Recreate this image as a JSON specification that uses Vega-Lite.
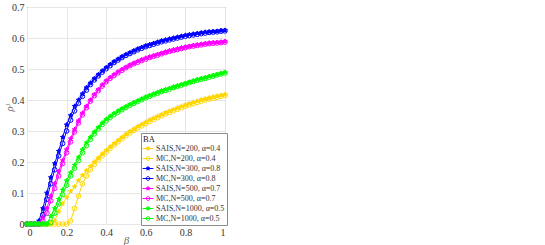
{
"$schema": "https://vega.github.io/schema/vega-lite/v6.json",
"width": 198, "height": 217,
"autosize": {"type": "none"},
"padding": {"left": 27, "top": 7, "right": 320, "bottom": 21},
"background": "white",
"config": {
  "view": {"stroke": "#5a5a5a", "strokeWidth": 1},
  "axis": {"labelFont": "Liberation Serif", "labelFontSize": 10, "labelColor": "#333333", "titleFont": "Liberation Serif", "titleColor": "#666666", "titleFontWeight": "normal", "gridColor": "#e6e6e6", "domain": false, "ticks": false, "labelPadding": 3},
  "legend": {"fillColor": "white", "strokeColor": "#8c8c8c", "padding": 2, "titleFont": "Liberation Serif", "titleFontSize": 8.5, "titleFontWeight": "normal", "titleColor": "#222222", "titlePadding": 0, "labelFont": "Liberation Serif", "labelFontSize": 8, "labelColor": "#333333", "symbolSize": 81, "rowPadding": 1, "labelOffset": 3, "symbolStrokeWidth": 1, "cornerRadius": 0}
},
"datasets": {"d": [
{"s":"SAIS,N=200, α=0.4","b":0,"v":0},{"s":"SAIS,N=200, α=0.4","b":0.02,"v":0},{"s":"SAIS,N=200, α=0.4","b":0.04,"v":0},{"s":"SAIS,N=200, α=0.4","b":0.06,"v":0},{"s":"SAIS,N=200, α=0.4","b":0.08,"v":0},{"s":"SAIS,N=200, α=0.4","b":0.1,"v":0},{"s":"SAIS,N=200, α=0.4","b":0.12,"v":0},{"s":"SAIS,N=200, α=0.4","b":0.14,"v":0.01},{"s":"SAIS,N=200, α=0.4","b":0.16,"v":0.04},{"s":"SAIS,N=200, α=0.4","b":0.18,"v":0.065},{"s":"SAIS,N=200, α=0.4","b":0.2,"v":0.085},{"s":"SAIS,N=200, α=0.4","b":0.22,"v":0.105},{"s":"SAIS,N=200, α=0.4","b":0.24,"v":0.12},{"s":"SAIS,N=200, α=0.4","b":0.26,"v":0.14},{"s":"SAIS,N=200, α=0.4","b":0.28,"v":0.157},{"s":"SAIS,N=200, α=0.4","b":0.3,"v":0.172},{"s":"SAIS,N=200, α=0.4","b":0.32,"v":0.186},{"s":"SAIS,N=200, α=0.4","b":0.34,"v":0.2},{"s":"SAIS,N=200, α=0.4","b":0.36,"v":0.213},{"s":"SAIS,N=200, α=0.4","b":0.38,"v":0.226},{"s":"SAIS,N=200, α=0.4","b":0.4,"v":0.238},{"s":"SAIS,N=200, α=0.4","b":0.42,"v":0.249},{"s":"SAIS,N=200, α=0.4","b":0.44,"v":0.26},{"s":"SAIS,N=200, α=0.4","b":0.46,"v":0.27},{"s":"SAIS,N=200, α=0.4","b":0.48,"v":0.28},{"s":"SAIS,N=200, α=0.4","b":0.5,"v":0.29},{"s":"SAIS,N=200, α=0.4","b":0.52,"v":0.299},{"s":"SAIS,N=200, α=0.4","b":0.54,"v":0.307},{"s":"SAIS,N=200, α=0.4","b":0.56,"v":0.315},{"s":"SAIS,N=200, α=0.4","b":0.58,"v":0.322},{"s":"SAIS,N=200, α=0.4","b":0.6,"v":0.329},{"s":"SAIS,N=200, α=0.4","b":0.62,"v":0.336},{"s":"SAIS,N=200, α=0.4","b":0.64,"v":0.342},{"s":"SAIS,N=200, α=0.4","b":0.66,"v":0.348},{"s":"SAIS,N=200, α=0.4","b":0.68,"v":0.354},{"s":"SAIS,N=200, α=0.4","b":0.7,"v":0.36},{"s":"SAIS,N=200, α=0.4","b":0.72,"v":0.365},{"s":"SAIS,N=200, α=0.4","b":0.74,"v":0.37},{"s":"SAIS,N=200, α=0.4","b":0.76,"v":0.375},{"s":"SAIS,N=200, α=0.4","b":0.78,"v":0.38},{"s":"SAIS,N=200, α=0.4","b":0.8,"v":0.385},{"s":"SAIS,N=200, α=0.4","b":0.82,"v":0.389},{"s":"SAIS,N=200, α=0.4","b":0.84,"v":0.393},{"s":"SAIS,N=200, α=0.4","b":0.86,"v":0.397},{"s":"SAIS,N=200, α=0.4","b":0.88,"v":0.401},{"s":"SAIS,N=200, α=0.4","b":0.9,"v":0.404},{"s":"SAIS,N=200, α=0.4","b":0.92,"v":0.407},{"s":"SAIS,N=200, α=0.4","b":0.94,"v":0.41},{"s":"SAIS,N=200, α=0.4","b":0.96,"v":0.413},{"s":"SAIS,N=200, α=0.4","b":0.98,"v":0.415},{"s":"SAIS,N=200, α=0.4","b":1,"v":0.418},
{"s":"MC,N=200, α=0.4","b":0,"v":0},{"s":"MC,N=200, α=0.4","b":0.02,"v":0},{"s":"MC,N=200, α=0.4","b":0.04,"v":0},{"s":"MC,N=200, α=0.4","b":0.06,"v":0},{"s":"MC,N=200, α=0.4","b":0.08,"v":0},{"s":"MC,N=200, α=0.4","b":0.1,"v":0},{"s":"MC,N=200, α=0.4","b":0.12,"v":0},{"s":"MC,N=200, α=0.4","b":0.14,"v":0},{"s":"MC,N=200, α=0.4","b":0.16,"v":0},{"s":"MC,N=200, α=0.4","b":0.18,"v":0},{"s":"MC,N=200, α=0.4","b":0.2,"v":0},{"s":"MC,N=200, α=0.4","b":0.22,"v":0.01},{"s":"MC,N=200, α=0.4","b":0.24,"v":0.05},{"s":"MC,N=200, α=0.4","b":0.26,"v":0.09},{"s":"MC,N=200, α=0.4","b":0.28,"v":0.13},{"s":"MC,N=200, α=0.4","b":0.3,"v":0.155},{"s":"MC,N=200, α=0.4","b":0.32,"v":0.175},{"s":"MC,N=200, α=0.4","b":0.34,"v":0.192},{"s":"MC,N=200, α=0.4","b":0.36,"v":0.207},{"s":"MC,N=200, α=0.4","b":0.38,"v":0.22},{"s":"MC,N=200, α=0.4","b":0.4,"v":0.232},{"s":"MC,N=200, α=0.4","b":0.42,"v":0.244},{"s":"MC,N=200, α=0.4","b":0.44,"v":0.255},{"s":"MC,N=200, α=0.4","b":0.46,"v":0.265},{"s":"MC,N=200, α=0.4","b":0.48,"v":0.275},{"s":"MC,N=200, α=0.4","b":0.5,"v":0.285},{"s":"MC,N=200, α=0.4","b":0.52,"v":0.294},{"s":"MC,N=200, α=0.4","b":0.54,"v":0.302},{"s":"MC,N=200, α=0.4","b":0.56,"v":0.31},{"s":"MC,N=200, α=0.4","b":0.58,"v":0.317},{"s":"MC,N=200, α=0.4","b":0.6,"v":0.324},{"s":"MC,N=200, α=0.4","b":0.62,"v":0.331},{"s":"MC,N=200, α=0.4","b":0.64,"v":0.337},{"s":"MC,N=200, α=0.4","b":0.66,"v":0.343},{"s":"MC,N=200, α=0.4","b":0.68,"v":0.349},{"s":"MC,N=200, α=0.4","b":0.7,"v":0.355},{"s":"MC,N=200, α=0.4","b":0.72,"v":0.36},{"s":"MC,N=200, α=0.4","b":0.74,"v":0.365},{"s":"MC,N=200, α=0.4","b":0.76,"v":0.37},{"s":"MC,N=200, α=0.4","b":0.78,"v":0.375},{"s":"MC,N=200, α=0.4","b":0.8,"v":0.38},{"s":"MC,N=200, α=0.4","b":0.82,"v":0.384},{"s":"MC,N=200, α=0.4","b":0.84,"v":0.388},{"s":"MC,N=200, α=0.4","b":0.86,"v":0.392},{"s":"MC,N=200, α=0.4","b":0.88,"v":0.396},{"s":"MC,N=200, α=0.4","b":0.9,"v":0.4},{"s":"MC,N=200, α=0.4","b":0.92,"v":0.403},{"s":"MC,N=200, α=0.4","b":0.94,"v":0.406},{"s":"MC,N=200, α=0.4","b":0.96,"v":0.409},{"s":"MC,N=200, α=0.4","b":0.98,"v":0.412},{"s":"MC,N=200, α=0.4","b":1,"v":0.415},
{"s":"SAIS,N=300, α=0.8","b":0,"v":0},{"s":"SAIS,N=300, α=0.8","b":0.02,"v":0},{"s":"SAIS,N=300, α=0.8","b":0.04,"v":0},{"s":"SAIS,N=300, α=0.8","b":0.06,"v":0.01},{"s":"SAIS,N=300, α=0.8","b":0.08,"v":0.05},{"s":"SAIS,N=300, α=0.8","b":0.1,"v":0.1},{"s":"SAIS,N=300, α=0.8","b":0.12,"v":0.15},{"s":"SAIS,N=300, α=0.8","b":0.14,"v":0.195},{"s":"SAIS,N=300, α=0.8","b":0.16,"v":0.235},{"s":"SAIS,N=300, α=0.8","b":0.18,"v":0.28},{"s":"SAIS,N=300, α=0.8","b":0.2,"v":0.32},{"s":"SAIS,N=300, α=0.8","b":0.22,"v":0.35},{"s":"SAIS,N=300, α=0.8","b":0.24,"v":0.38},{"s":"SAIS,N=300, α=0.8","b":0.26,"v":0.4},{"s":"SAIS,N=300, α=0.8","b":0.28,"v":0.42},{"s":"SAIS,N=300, α=0.8","b":0.3,"v":0.44},{"s":"SAIS,N=300, α=0.8","b":0.32,"v":0.455},{"s":"SAIS,N=300, α=0.8","b":0.34,"v":0.469},{"s":"SAIS,N=300, α=0.8","b":0.36,"v":0.482},{"s":"SAIS,N=300, α=0.8","b":0.38,"v":0.494},{"s":"SAIS,N=300, α=0.8","b":0.4,"v":0.505},{"s":"SAIS,N=300, α=0.8","b":0.42,"v":0.515},{"s":"SAIS,N=300, α=0.8","b":0.44,"v":0.524},{"s":"SAIS,N=300, α=0.8","b":0.46,"v":0.532},{"s":"SAIS,N=300, α=0.8","b":0.48,"v":0.54},{"s":"SAIS,N=300, α=0.8","b":0.5,"v":0.547},{"s":"SAIS,N=300, α=0.8","b":0.52,"v":0.553},{"s":"SAIS,N=300, α=0.8","b":0.54,"v":0.559},{"s":"SAIS,N=300, α=0.8","b":0.56,"v":0.565},{"s":"SAIS,N=300, α=0.8","b":0.58,"v":0.57},{"s":"SAIS,N=300, α=0.8","b":0.6,"v":0.575},{"s":"SAIS,N=300, α=0.8","b":0.62,"v":0.579},{"s":"SAIS,N=300, α=0.8","b":0.64,"v":0.583},{"s":"SAIS,N=300, α=0.8","b":0.66,"v":0.587},{"s":"SAIS,N=300, α=0.8","b":0.68,"v":0.591},{"s":"SAIS,N=300, α=0.8","b":0.7,"v":0.594},{"s":"SAIS,N=300, α=0.8","b":0.72,"v":0.597},{"s":"SAIS,N=300, α=0.8","b":0.74,"v":0.6},{"s":"SAIS,N=300, α=0.8","b":0.76,"v":0.603},{"s":"SAIS,N=300, α=0.8","b":0.78,"v":0.606},{"s":"SAIS,N=300, α=0.8","b":0.8,"v":0.609},{"s":"SAIS,N=300, α=0.8","b":0.82,"v":0.611},{"s":"SAIS,N=300, α=0.8","b":0.84,"v":0.613},{"s":"SAIS,N=300, α=0.8","b":0.86,"v":0.615},{"s":"SAIS,N=300, α=0.8","b":0.88,"v":0.617},{"s":"SAIS,N=300, α=0.8","b":0.9,"v":0.619},{"s":"SAIS,N=300, α=0.8","b":0.92,"v":0.62},{"s":"SAIS,N=300, α=0.8","b":0.94,"v":0.621},{"s":"SAIS,N=300, α=0.8","b":0.96,"v":0.622},{"s":"SAIS,N=300, α=0.8","b":0.98,"v":0.624},{"s":"SAIS,N=300, α=0.8","b":1,"v":0.625},
{"s":"MC,N=300, α=0.8","b":0,"v":0},{"s":"MC,N=300, α=0.8","b":0.02,"v":0},{"s":"MC,N=300, α=0.8","b":0.04,"v":0},{"s":"MC,N=300, α=0.8","b":0.06,"v":0},{"s":"MC,N=300, α=0.8","b":0.08,"v":0.03},{"s":"MC,N=300, α=0.8","b":0.1,"v":0.08},{"s":"MC,N=300, α=0.8","b":0.12,"v":0.13},{"s":"MC,N=300, α=0.8","b":0.14,"v":0.175},{"s":"MC,N=300, α=0.8","b":0.16,"v":0.22},{"s":"MC,N=300, α=0.8","b":0.18,"v":0.26},{"s":"MC,N=300, α=0.8","b":0.2,"v":0.3},{"s":"MC,N=300, α=0.8","b":0.22,"v":0.335},{"s":"MC,N=300, α=0.8","b":0.24,"v":0.365},{"s":"MC,N=300, α=0.8","b":0.26,"v":0.39},{"s":"MC,N=300, α=0.8","b":0.28,"v":0.412},{"s":"MC,N=300, α=0.8","b":0.3,"v":0.432},{"s":"MC,N=300, α=0.8","b":0.32,"v":0.45},{"s":"MC,N=300, α=0.8","b":0.34,"v":0.465},{"s":"MC,N=300, α=0.8","b":0.36,"v":0.478},{"s":"MC,N=300, α=0.8","b":0.38,"v":0.49},{"s":"MC,N=300, α=0.8","b":0.4,"v":0.501},{"s":"MC,N=300, α=0.8","b":0.42,"v":0.511},{"s":"MC,N=300, α=0.8","b":0.44,"v":0.521},{"s":"MC,N=300, α=0.8","b":0.46,"v":0.529},{"s":"MC,N=300, α=0.8","b":0.48,"v":0.537},{"s":"MC,N=300, α=0.8","b":0.5,"v":0.544},{"s":"MC,N=300, α=0.8","b":0.52,"v":0.55},{"s":"MC,N=300, α=0.8","b":0.54,"v":0.556},{"s":"MC,N=300, α=0.8","b":0.56,"v":0.562},{"s":"MC,N=300, α=0.8","b":0.58,"v":0.567},{"s":"MC,N=300, α=0.8","b":0.6,"v":0.572},{"s":"MC,N=300, α=0.8","b":0.62,"v":0.576},{"s":"MC,N=300, α=0.8","b":0.64,"v":0.58},{"s":"MC,N=300, α=0.8","b":0.66,"v":0.584},{"s":"MC,N=300, α=0.8","b":0.68,"v":0.588},{"s":"MC,N=300, α=0.8","b":0.7,"v":0.591},{"s":"MC,N=300, α=0.8","b":0.72,"v":0.594},{"s":"MC,N=300, α=0.8","b":0.74,"v":0.597},{"s":"MC,N=300, α=0.8","b":0.76,"v":0.6},{"s":"MC,N=300, α=0.8","b":0.78,"v":0.603},{"s":"MC,N=300, α=0.8","b":0.8,"v":0.606},{"s":"MC,N=300, α=0.8","b":0.82,"v":0.608},{"s":"MC,N=300, α=0.8","b":0.84,"v":0.61},{"s":"MC,N=300, α=0.8","b":0.86,"v":0.612},{"s":"MC,N=300, α=0.8","b":0.88,"v":0.614},{"s":"MC,N=300, α=0.8","b":0.9,"v":0.616},{"s":"MC,N=300, α=0.8","b":0.92,"v":0.618},{"s":"MC,N=300, α=0.8","b":0.94,"v":0.619},{"s":"MC,N=300, α=0.8","b":0.96,"v":0.62},{"s":"MC,N=300, α=0.8","b":0.98,"v":0.622},{"s":"MC,N=300, α=0.8","b":1,"v":0.623},
{"s":"SAIS,N=500, α=0.7","b":0,"v":0},{"s":"SAIS,N=500, α=0.7","b":0.02,"v":0},{"s":"SAIS,N=500, α=0.7","b":0.04,"v":0},{"s":"SAIS,N=500, α=0.7","b":0.06,"v":0},{"s":"SAIS,N=500, α=0.7","b":0.08,"v":0.02},{"s":"SAIS,N=500, α=0.7","b":0.1,"v":0.05},{"s":"SAIS,N=500, α=0.7","b":0.12,"v":0.09},{"s":"SAIS,N=500, α=0.7","b":0.14,"v":0.13},{"s":"SAIS,N=500, α=0.7","b":0.16,"v":0.17},{"s":"SAIS,N=500, α=0.7","b":0.18,"v":0.205},{"s":"SAIS,N=500, α=0.7","b":0.2,"v":0.24},{"s":"SAIS,N=500, α=0.7","b":0.22,"v":0.275},{"s":"SAIS,N=500, α=0.7","b":0.24,"v":0.305},{"s":"SAIS,N=500, α=0.7","b":0.26,"v":0.333},{"s":"SAIS,N=500, α=0.7","b":0.28,"v":0.358},{"s":"SAIS,N=500, α=0.7","b":0.3,"v":0.38},{"s":"SAIS,N=500, α=0.7","b":0.32,"v":0.4},{"s":"SAIS,N=500, α=0.7","b":0.34,"v":0.418},{"s":"SAIS,N=500, α=0.7","b":0.36,"v":0.434},{"s":"SAIS,N=500, α=0.7","b":0.38,"v":0.449},{"s":"SAIS,N=500, α=0.7","b":0.4,"v":0.462},{"s":"SAIS,N=500, α=0.7","b":0.42,"v":0.473},{"s":"SAIS,N=500, α=0.7","b":0.44,"v":0.482},{"s":"SAIS,N=500, α=0.7","b":0.46,"v":0.491},{"s":"SAIS,N=500, α=0.7","b":0.48,"v":0.499},{"s":"SAIS,N=500, α=0.7","b":0.5,"v":0.506},{"s":"SAIS,N=500, α=0.7","b":0.52,"v":0.513},{"s":"SAIS,N=500, α=0.7","b":0.54,"v":0.519},{"s":"SAIS,N=500, α=0.7","b":0.56,"v":0.525},{"s":"SAIS,N=500, α=0.7","b":0.58,"v":0.53},{"s":"SAIS,N=500, α=0.7","b":0.6,"v":0.535},{"s":"SAIS,N=500, α=0.7","b":0.62,"v":0.539},{"s":"SAIS,N=500, α=0.7","b":0.64,"v":0.543},{"s":"SAIS,N=500, α=0.7","b":0.66,"v":0.547},{"s":"SAIS,N=500, α=0.7","b":0.68,"v":0.551},{"s":"SAIS,N=500, α=0.7","b":0.7,"v":0.555},{"s":"SAIS,N=500, α=0.7","b":0.72,"v":0.559},{"s":"SAIS,N=500, α=0.7","b":0.74,"v":0.562},{"s":"SAIS,N=500, α=0.7","b":0.76,"v":0.565},{"s":"SAIS,N=500, α=0.7","b":0.78,"v":0.568},{"s":"SAIS,N=500, α=0.7","b":0.8,"v":0.571},{"s":"SAIS,N=500, α=0.7","b":0.82,"v":0.573},{"s":"SAIS,N=500, α=0.7","b":0.84,"v":0.576},{"s":"SAIS,N=500, α=0.7","b":0.86,"v":0.578},{"s":"SAIS,N=500, α=0.7","b":0.88,"v":0.58},{"s":"SAIS,N=500, α=0.7","b":0.9,"v":0.582},{"s":"SAIS,N=500, α=0.7","b":0.92,"v":0.584},{"s":"SAIS,N=500, α=0.7","b":0.94,"v":0.585},{"s":"SAIS,N=500, α=0.7","b":0.96,"v":0.586},{"s":"SAIS,N=500, α=0.7","b":0.98,"v":0.587},{"s":"SAIS,N=500, α=0.7","b":1,"v":0.589},
{"s":"MC,N=500, α=0.7","b":0,"v":0},{"s":"MC,N=500, α=0.7","b":0.02,"v":0},{"s":"MC,N=500, α=0.7","b":0.04,"v":0},{"s":"MC,N=500, α=0.7","b":0.06,"v":0},{"s":"MC,N=500, α=0.7","b":0.08,"v":0.01},{"s":"MC,N=500, α=0.7","b":0.1,"v":0.035},{"s":"MC,N=500, α=0.7","b":0.12,"v":0.075},{"s":"MC,N=500, α=0.7","b":0.14,"v":0.115},{"s":"MC,N=500, α=0.7","b":0.16,"v":0.155},{"s":"MC,N=500, α=0.7","b":0.18,"v":0.195},{"s":"MC,N=500, α=0.7","b":0.2,"v":0.23},{"s":"MC,N=500, α=0.7","b":0.22,"v":0.265},{"s":"MC,N=500, α=0.7","b":0.24,"v":0.297},{"s":"MC,N=500, α=0.7","b":0.26,"v":0.326},{"s":"MC,N=500, α=0.7","b":0.28,"v":0.352},{"s":"MC,N=500, α=0.7","b":0.3,"v":0.375},{"s":"MC,N=500, α=0.7","b":0.32,"v":0.396},{"s":"MC,N=500, α=0.7","b":0.34,"v":0.414},{"s":"MC,N=500, α=0.7","b":0.36,"v":0.43},{"s":"MC,N=500, α=0.7","b":0.38,"v":0.445},{"s":"MC,N=500, α=0.7","b":0.4,"v":0.459},{"s":"MC,N=500, α=0.7","b":0.42,"v":0.47},{"s":"MC,N=500, α=0.7","b":0.44,"v":0.479},{"s":"MC,N=500, α=0.7","b":0.46,"v":0.488},{"s":"MC,N=500, α=0.7","b":0.48,"v":0.496},{"s":"MC,N=500, α=0.7","b":0.5,"v":0.504},{"s":"MC,N=500, α=0.7","b":0.52,"v":0.511},{"s":"MC,N=500, α=0.7","b":0.54,"v":0.517},{"s":"MC,N=500, α=0.7","b":0.56,"v":0.522},{"s":"MC,N=500, α=0.7","b":0.58,"v":0.527},{"s":"MC,N=500, α=0.7","b":0.6,"v":0.532},{"s":"MC,N=500, α=0.7","b":0.62,"v":0.537},{"s":"MC,N=500, α=0.7","b":0.64,"v":0.541},{"s":"MC,N=500, α=0.7","b":0.66,"v":0.545},{"s":"MC,N=500, α=0.7","b":0.68,"v":0.549},{"s":"MC,N=500, α=0.7","b":0.7,"v":0.553},{"s":"MC,N=500, α=0.7","b":0.72,"v":0.557},{"s":"MC,N=500, α=0.7","b":0.74,"v":0.56},{"s":"MC,N=500, α=0.7","b":0.76,"v":0.563},{"s":"MC,N=500, α=0.7","b":0.78,"v":0.566},{"s":"MC,N=500, α=0.7","b":0.8,"v":0.569},{"s":"MC,N=500, α=0.7","b":0.82,"v":0.572},{"s":"MC,N=500, α=0.7","b":0.84,"v":0.574},{"s":"MC,N=500, α=0.7","b":0.86,"v":0.576},{"s":"MC,N=500, α=0.7","b":0.88,"v":0.578},{"s":"MC,N=500, α=0.7","b":0.9,"v":0.58},{"s":"MC,N=500, α=0.7","b":0.92,"v":0.582},{"s":"MC,N=500, α=0.7","b":0.94,"v":0.583},{"s":"MC,N=500, α=0.7","b":0.96,"v":0.584},{"s":"MC,N=500, α=0.7","b":0.98,"v":0.585},{"s":"MC,N=500, α=0.7","b":1,"v":0.587},
{"s":"SAIS,N=1000, α=0.5","b":0,"v":0},{"s":"SAIS,N=1000, α=0.5","b":0.02,"v":0},{"s":"SAIS,N=1000, α=0.5","b":0.04,"v":0},{"s":"SAIS,N=1000, α=0.5","b":0.06,"v":0},{"s":"SAIS,N=1000, α=0.5","b":0.08,"v":0},{"s":"SAIS,N=1000, α=0.5","b":0.1,"v":0},{"s":"SAIS,N=1000, α=0.5","b":0.12,"v":0.025},{"s":"SAIS,N=1000, α=0.5","b":0.14,"v":0.05},{"s":"SAIS,N=1000, α=0.5","b":0.16,"v":0.08},{"s":"SAIS,N=1000, α=0.5","b":0.18,"v":0.11},{"s":"SAIS,N=1000, α=0.5","b":0.2,"v":0.14},{"s":"SAIS,N=1000, α=0.5","b":0.22,"v":0.165},{"s":"SAIS,N=1000, α=0.5","b":0.24,"v":0.19},{"s":"SAIS,N=1000, α=0.5","b":0.26,"v":0.215},{"s":"SAIS,N=1000, α=0.5","b":0.28,"v":0.24},{"s":"SAIS,N=1000, α=0.5","b":0.3,"v":0.262},{"s":"SAIS,N=1000, α=0.5","b":0.32,"v":0.28},{"s":"SAIS,N=1000, α=0.5","b":0.34,"v":0.297},{"s":"SAIS,N=1000, α=0.5","b":0.36,"v":0.312},{"s":"SAIS,N=1000, α=0.5","b":0.38,"v":0.326},{"s":"SAIS,N=1000, α=0.5","b":0.4,"v":0.338},{"s":"SAIS,N=1000, α=0.5","b":0.42,"v":0.348},{"s":"SAIS,N=1000, α=0.5","b":0.44,"v":0.357},{"s":"SAIS,N=1000, α=0.5","b":0.46,"v":0.365},{"s":"SAIS,N=1000, α=0.5","b":0.48,"v":0.372},{"s":"SAIS,N=1000, α=0.5","b":0.5,"v":0.379},{"s":"SAIS,N=1000, α=0.5","b":0.52,"v":0.386},{"s":"SAIS,N=1000, α=0.5","b":0.54,"v":0.392},{"s":"SAIS,N=1000, α=0.5","b":0.56,"v":0.398},{"s":"SAIS,N=1000, α=0.5","b":0.58,"v":0.404},{"s":"SAIS,N=1000, α=0.5","b":0.6,"v":0.41},{"s":"SAIS,N=1000, α=0.5","b":0.62,"v":0.415},{"s":"SAIS,N=1000, α=0.5","b":0.64,"v":0.42},{"s":"SAIS,N=1000, α=0.5","b":0.66,"v":0.425},{"s":"SAIS,N=1000, α=0.5","b":0.68,"v":0.43},{"s":"SAIS,N=1000, α=0.5","b":0.7,"v":0.434},{"s":"SAIS,N=1000, α=0.5","b":0.72,"v":0.438},{"s":"SAIS,N=1000, α=0.5","b":0.74,"v":0.442},{"s":"SAIS,N=1000, α=0.5","b":0.76,"v":0.446},{"s":"SAIS,N=1000, α=0.5","b":0.78,"v":0.45},{"s":"SAIS,N=1000, α=0.5","b":0.8,"v":0.454},{"s":"SAIS,N=1000, α=0.5","b":0.82,"v":0.458},{"s":"SAIS,N=1000, α=0.5","b":0.84,"v":0.462},{"s":"SAIS,N=1000, α=0.5","b":0.86,"v":0.466},{"s":"SAIS,N=1000, α=0.5","b":0.88,"v":0.469},{"s":"SAIS,N=1000, α=0.5","b":0.9,"v":0.472},{"s":"SAIS,N=1000, α=0.5","b":0.92,"v":0.476},{"s":"SAIS,N=1000, α=0.5","b":0.94,"v":0.479},{"s":"SAIS,N=1000, α=0.5","b":0.96,"v":0.482},{"s":"SAIS,N=1000, α=0.5","b":0.98,"v":0.486},{"s":"SAIS,N=1000, α=0.5","b":1,"v":0.489},
{"s":"MC,N=1000, α=0.5","b":0,"v":0},{"s":"MC,N=1000, α=0.5","b":0.02,"v":0},{"s":"MC,N=1000, α=0.5","b":0.04,"v":0},{"s":"MC,N=1000, α=0.5","b":0.06,"v":0},{"s":"MC,N=1000, α=0.5","b":0.08,"v":0},{"s":"MC,N=1000, α=0.5","b":0.1,"v":0},{"s":"MC,N=1000, α=0.5","b":0.12,"v":0.005},{"s":"MC,N=1000, α=0.5","b":0.14,"v":0.035},{"s":"MC,N=1000, α=0.5","b":0.16,"v":0.065},{"s":"MC,N=1000, α=0.5","b":0.18,"v":0.095},{"s":"MC,N=1000, α=0.5","b":0.2,"v":0.125},{"s":"MC,N=1000, α=0.5","b":0.22,"v":0.155},{"s":"MC,N=1000, α=0.5","b":0.24,"v":0.18},{"s":"MC,N=1000, α=0.5","b":0.26,"v":0.205},{"s":"MC,N=1000, α=0.5","b":0.28,"v":0.23},{"s":"MC,N=1000, α=0.5","b":0.3,"v":0.253},{"s":"MC,N=1000, α=0.5","b":0.32,"v":0.273},{"s":"MC,N=1000, α=0.5","b":0.34,"v":0.291},{"s":"MC,N=1000, α=0.5","b":0.36,"v":0.307},{"s":"MC,N=1000, α=0.5","b":0.38,"v":0.321},{"s":"MC,N=1000, α=0.5","b":0.4,"v":0.333},{"s":"MC,N=1000, α=0.5","b":0.42,"v":0.344},{"s":"MC,N=1000, α=0.5","b":0.44,"v":0.353},{"s":"MC,N=1000, α=0.5","b":0.46,"v":0.361},{"s":"MC,N=1000, α=0.5","b":0.48,"v":0.369},{"s":"MC,N=1000, α=0.5","b":0.5,"v":0.376},{"s":"MC,N=1000, α=0.5","b":0.52,"v":0.383},{"s":"MC,N=1000, α=0.5","b":0.54,"v":0.389},{"s":"MC,N=1000, α=0.5","b":0.56,"v":0.395},{"s":"MC,N=1000, α=0.5","b":0.58,"v":0.401},{"s":"MC,N=1000, α=0.5","b":0.6,"v":0.407},{"s":"MC,N=1000, α=0.5","b":0.62,"v":0.412},{"s":"MC,N=1000, α=0.5","b":0.64,"v":0.417},{"s":"MC,N=1000, α=0.5","b":0.66,"v":0.422},{"s":"MC,N=1000, α=0.5","b":0.68,"v":0.427},{"s":"MC,N=1000, α=0.5","b":0.7,"v":0.431},{"s":"MC,N=1000, α=0.5","b":0.72,"v":0.435},{"s":"MC,N=1000, α=0.5","b":0.74,"v":0.44},{"s":"MC,N=1000, α=0.5","b":0.76,"v":0.444},{"s":"MC,N=1000, α=0.5","b":0.78,"v":0.448},{"s":"MC,N=1000, α=0.5","b":0.8,"v":0.452},{"s":"MC,N=1000, α=0.5","b":0.82,"v":0.456},{"s":"MC,N=1000, α=0.5","b":0.84,"v":0.46},{"s":"MC,N=1000, α=0.5","b":0.86,"v":0.464},{"s":"MC,N=1000, α=0.5","b":0.88,"v":0.467},{"s":"MC,N=1000, α=0.5","b":0.9,"v":0.47},{"s":"MC,N=1000, α=0.5","b":0.92,"v":0.474},{"s":"MC,N=1000, α=0.5","b":0.94,"v":0.477},{"s":"MC,N=1000, α=0.5","b":0.96,"v":0.481},{"s":"MC,N=1000, α=0.5","b":0.98,"v":0.484},{"s":"MC,N=1000, α=0.5","b":1,"v":0.487}
]},
"data": {"name": "d"},
"encoding": {
  "x": {"field": "b", "type": "quantitative", "scale": {"domain": [0, 1], "nice": false}, "axis": {"values": [0, 0.2, 0.4, 0.6, 0.8, 1], "format": "~g", "title": "β", "titleFontStyle": "italic", "titleFontSize": 11, "titlePadding": -3}},
  "y": {"field": "v", "type": "quantitative", "scale": {"domain": [0, 0.7], "nice": false}, "axis": {"values": [0, 0.1, 0.2, 0.3, 0.4, 0.5, 0.6, 0.7], "format": ".1~f", "title": "ρᴵ", "titleFontStyle": "italic", "titleFontSize": 11, "titlePadding": -3, "titleY": 100}}
},
"layer": [
  {"mark": {"type": "line", "strokeWidth": 1},
   "encoding": {"stroke": {"field": "s", "type": "nominal", "legend": null,
     "scale": {"domain": ["SAIS,N=200, α=0.4","MC,N=200, α=0.4","SAIS,N=300, α=0.8","MC,N=300, α=0.8","SAIS,N=500, α=0.7","MC,N=500, α=0.7","SAIS,N=1000, α=0.5","MC,N=1000, α=0.5"],
               "range": ["#FFD700","#FFD700","#0000FF","#0000FF","#FF00FF","#FF00FF","#00FF00","#00FF00"]}}}},
  {"mark": {"type": "point", "size": 22, "strokeWidth": 1, "opacity": 1},
   "encoding": {
     "stroke": {"field": "s", "type": "nominal", "legend": null,
       "scale": {"domain": ["SAIS,N=200, α=0.4","MC,N=200, α=0.4","SAIS,N=300, α=0.8","MC,N=300, α=0.8","SAIS,N=500, α=0.7","MC,N=500, α=0.7","SAIS,N=1000, α=0.5","MC,N=1000, α=0.5"],
                 "range": ["#FFD700","#FFD700","#0000FF","#0000FF","#FF00FF","#FF00FF","#00FF00","#00FF00"]}},
     "fill": {"field": "s", "type": "nominal", "legend": null,
       "scale": {"domain": ["SAIS,N=200, α=0.4","MC,N=200, α=0.4","SAIS,N=300, α=0.8","MC,N=300, α=0.8","SAIS,N=500, α=0.7","MC,N=500, α=0.7","SAIS,N=1000, α=0.5","MC,N=1000, α=0.5"],
                 "range": ["#FFD700","transparent","#0000FF","transparent","#FF00FF","transparent","#00FF00","transparent"]}},
     "shape": {"field": "s", "type": "nominal", "legend": null,
       "scale": {"domain": ["SAIS,N=200, α=0.4","MC,N=200, α=0.4","SAIS,N=300, α=0.8","MC,N=300, α=0.8","SAIS,N=500, α=0.7","MC,N=500, α=0.7","SAIS,N=1000, α=0.5","MC,N=1000, α=0.5"],
                 "range": ["M0,-1L0.235,-0.324L0.951,-0.309L0.38,0.124L0.588,0.809L0,0.4L-0.588,0.809L-0.38,0.124L-0.951,-0.309L-0.235,-0.324Z","circle","M0,-1L0.235,-0.324L0.951,-0.309L0.38,0.124L0.588,0.809L0,0.4L-0.588,0.809L-0.38,0.124L-0.951,-0.309L-0.235,-0.324Z","circle","M0,-1L0.235,-0.324L0.951,-0.309L0.38,0.124L0.588,0.809L0,0.4L-0.588,0.809L-0.38,0.124L-0.951,-0.309L-0.235,-0.324Z","circle","M0,-1L0.235,-0.324L0.951,-0.309L0.38,0.124L0.588,0.809L0,0.4L-0.588,0.809L-0.38,0.124L-0.951,-0.309L-0.235,-0.324Z","circle"]}}
   }},
  {"transform": [{"filter": {"field": "b", "lt": -1}}],
   "mark": {"type": "point", "strokeWidth": 1, "opacity": 1},
   "encoding": {
     "stroke": {"field": "s", "type": "nominal",
       "legend": {"title": "BA", "orient": "none", "legendX": 114, "legendY": 126},
       "scale": {"domain": ["SAIS,N=200, α=0.4","MC,N=200, α=0.4","SAIS,N=300, α=0.8","MC,N=300, α=0.8","SAIS,N=500, α=0.7","MC,N=500, α=0.7","SAIS,N=1000, α=0.5","MC,N=1000, α=0.5"],
                 "range": ["#FFD700","#FFD700","#0000FF","#0000FF","#FF00FF","#FF00FF","#00FF00","#00FF00"]}},
     "fill": {"field": "s", "type": "nominal",
       "legend": {"title": "BA", "orient": "none", "legendX": 114, "legendY": 126},
       "scale": {"domain": ["SAIS,N=200, α=0.4","MC,N=200, α=0.4","SAIS,N=300, α=0.8","MC,N=300, α=0.8","SAIS,N=500, α=0.7","MC,N=500, α=0.7","SAIS,N=1000, α=0.5","MC,N=1000, α=0.5"],
                 "range": ["#FFD700","transparent","#0000FF","transparent","#FF00FF","transparent","#00FF00","transparent"]}},
     "shape": {"field": "s", "type": "nominal",
       "legend": {"title": "BA", "orient": "none", "legendX": 114, "legendY": 126},
       "scale": {"domain": ["SAIS,N=200, α=0.4","MC,N=200, α=0.4","SAIS,N=300, α=0.8","MC,N=300, α=0.8","SAIS,N=500, α=0.7","MC,N=500, α=0.7","SAIS,N=1000, α=0.5","MC,N=1000, α=0.5"],
                 "range": ["M-1.2,0H1.2M0,-0.45L0.106,-0.146L0.428,-0.139L0.171,0.056L0.265,0.364L0,0.18L-0.265,0.364L-0.171,0.056L-0.428,-0.139L-0.106,-0.146Z","M-1.2,0H1.2M-0.42,0A0.42,0.42 0 1,0 0.42,0A0.42,0.42 0 1,0 -0.42,0","M-1.2,0H1.2M0,-0.45L0.106,-0.146L0.428,-0.139L0.171,0.056L0.265,0.364L0,0.18L-0.265,0.364L-0.171,0.056L-0.428,-0.139L-0.106,-0.146Z","M-1.2,0H1.2M-0.42,0A0.42,0.42 0 1,0 0.42,0A0.42,0.42 0 1,0 -0.42,0","M-1.2,0H1.2M0,-0.45L0.106,-0.146L0.428,-0.139L0.171,0.056L0.265,0.364L0,0.18L-0.265,0.364L-0.171,0.056L-0.428,-0.139L-0.106,-0.146Z","M-1.2,0H1.2M-0.42,0A0.42,0.42 0 1,0 0.42,0A0.42,0.42 0 1,0 -0.42,0","M-1.2,0H1.2M0,-0.45L0.106,-0.146L0.428,-0.139L0.171,0.056L0.265,0.364L0,0.18L-0.265,0.364L-0.171,0.056L-0.428,-0.139L-0.106,-0.146Z","M-1.2,0H1.2M-0.42,0A0.42,0.42 0 1,0 0.42,0A0.42,0.42 0 1,0 -0.42,0"]}}
   }}
],
"resolve": {"scale": {"stroke": "independent", "fill": "independent", "shape": "independent"}}
}
